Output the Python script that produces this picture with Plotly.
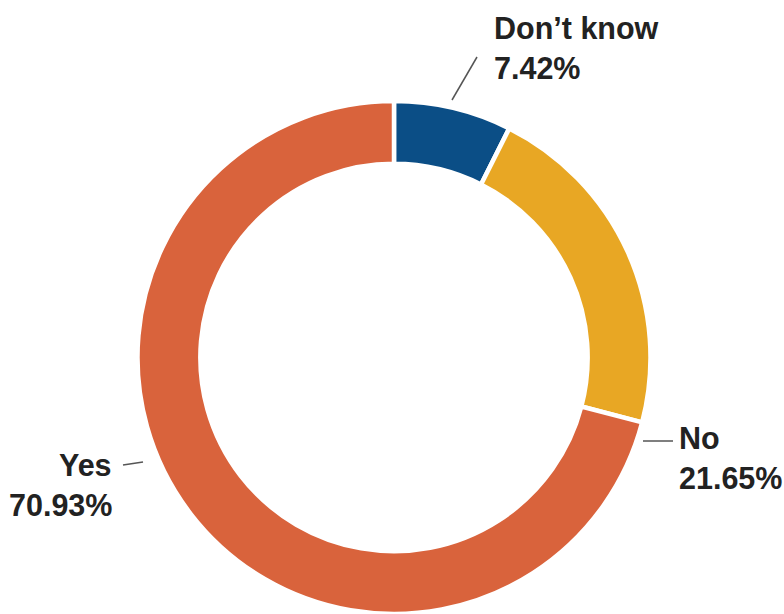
import plotly.graph_objects as go

# ---- data ----
categories = ["Don’t know", "No", "Yes"]
shares = [7.42, 21.65, 70.93]
colors = ["#0b4e86", "#e8a724", "#d9633c"]

W, H = 784, 614

def px(x):
    return x / W

def py(y):
    return 1 - y / H

fig = go.Figure(
    go.Pie(
        labels=categories,
        values=shares,
        sort=False,
        direction="clockwise",
        rotation=0,
        hole=0.755,
        marker=dict(colors=colors, line=dict(color="white", width=4.5)),
        textinfo="none",
        hoverinfo="label+percent",
        domain=dict(x=[px(137.5), px(650.5)], y=[0, py(101)]),
        showlegend=False,
    )
)

font = dict(family="Liberation Sans, Arial, sans-serif", size=30.5, color="#222222", weight="bold")

# label placement (pixel positions), kept apart from the data
label_pos = {
    "Don’t know": dict(x=492, y1=28, y2=68, anchor="left"),
    "No": dict(x=677, y1=438, y2=478, anchor="left"),
    "Yes": dict(x=114, y1=465, y2=505, anchor="right"),
}
leaders = {
    "Don’t know": (452, 100, 477, 57),
    "No": (643, 441, 673, 441),
    "Yes": (123, 465, 143, 462),
}

for cat, val in zip(categories, shares):
    p = label_pos[cat]
    fig.add_annotation(x=px(p["x"]), y=py(p["y1"]), xref="paper", yref="paper",
                       text=cat, showarrow=False, xanchor=p["anchor"], yanchor="middle",
                       font=font)
    fig.add_annotation(x=px(p["x"]), y=py(p["y2"]), xref="paper", yref="paper",
                       text=f"{val:.2f}%", showarrow=False, xanchor=p["anchor"], yanchor="middle",
                       font=font)
    x0, y0, x1, y1 = leaders[cat]
    fig.add_shape(type="line", xref="paper", yref="paper",
                  x0=px(x0), y0=py(y0), x1=px(x1), y1=py(y1),
                  line=dict(color="#555555", width=1.5))

fig.update_layout(
    width=W, height=H,
    margin=dict(l=0, r=0, t=0, b=0),
    paper_bgcolor="white",
    plot_bgcolor="white",
)

fig.write_html("out.html")
